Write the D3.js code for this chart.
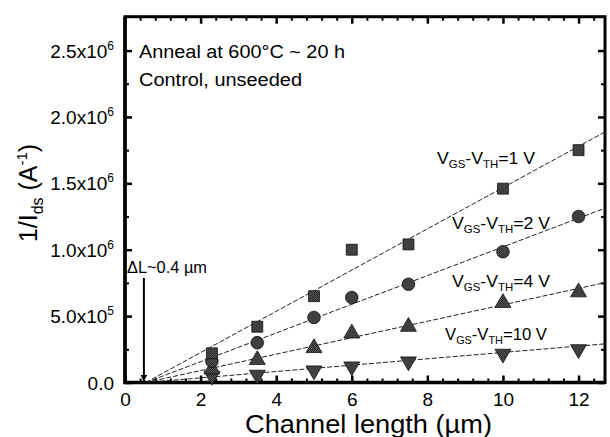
<!DOCTYPE html>
<html>
<head>
<meta charset="utf-8">
<script src="https://cdn.jsdelivr.net/npm/d3@7"></script>
<style>
  body { margin: 0; background: #fff; }
  svg { display: block; }
  text { font-family: "Liberation Sans", Arial, Helvetica, sans-serif; fill: #000; }
</style>
</head>
<body>
<svg id="chart" width="610" height="437"></svg>
<script>
// Channel lengths (µm) at which devices were measured
const channelLength = [2.3, 3.5, 5, 6, 7.5, 10, 12];

// 1/Ids (A^-1) for each gate overdrive
const inv1V  = [2.2e5, 4.2e5, 6.5e5, 1.0e6, 1.04e6, 1.46e6, 1.75e6];
const inv2V  = [1.6e5, 3.0e5, 4.9e5, 6.4e5, 7.4e5, 9.85e5, 1.25e6];
const inv4V  = [1.0e5, 1.7e5, 2.6e5, 3.7e5, 4.2e5, 6.0e5, 6.8e5];
const inv10V = [0.5e5, 0.58e5, 0.9e5, 1.2e5, 1.58e5, 2.16e5, 2.5e5];

// Linear fits: all cross zero near the same length offset
const fitStartX = 0.55;
const fitEndX = 12.7;
const fitEndY = [1.887e6, 1.313e6, 0.752e6, 0.291e6];

// Series labels (overdrive values)
const overdrive = ["1 V", "2 V", "4 V", "10 V"];

// Axis ticks
const xTicks = [0, 2, 4, 6, 8, 10, 12];
const yTicks = [0, 5e5, 1e6, 1.5e6, 2e6, 2.5e6];
const yTickMantissa = ["0.0", "5.0x10", "1.0x10", "1.5x10", "2.0x10", "2.5x10"];
const yTickExponent = ["", "5", "6", "6", "6", "6"];

const svg = d3.select("#chart");
const padL = 125, padR = 605, padT = 16.7, padB = 382.5;

const x = d3.scaleLinear().domain([0, 12.7]).range([padL, padR]);
const y = d3.scaleLinear().domain([0, 2.755e6]).range([padB, padT]);

// grainy halftone fill for the markers
const defs = svg.append("defs");
const pat = defs.append("pattern").attr("id", "grain")
  .attr("width", 2).attr("height", 2).attr("patternUnits", "userSpaceOnUse");
pat.append("rect").attr("width", 2).attr("height", 2).attr("fill", "#666");
pat.append("rect").attr("width", 1).attr("height", 1).attr("fill", "#111");
pat.append("rect").attr("x", 1).attr("y", 1).attr("width", 1).attr("height", 1).attr("fill", "#222");

defs.append("clipPath").attr("id", "plotClip")
  .append("rect").attr("x", padL).attr("y", padT).attr("width", padR - padL).attr("height", padB - padT);

defs.append("marker").attr("id", "arrowHead")
  .attr("viewBox", "0 0 10 10").attr("refX", 10).attr("refY", 5)
  .attr("markerWidth", 7).attr("markerHeight", 7).attr("markerUnits", "userSpaceOnUse")
  .attr("orient", "auto")
  .append("path").attr("d", "M0,0 L10,5 L0,10 Z").attr("fill", "#000");

// minor tick values
const xMinor = d3.range(0, 12.7, 0.4).filter(v => Math.abs(v / 2 - Math.round(v / 2)) > 1e-6);
const yMinor = d3.range(2.5e5, 2.75e6, 5e5);

function axisTicks(g) { g.select(".domain").remove(); g.selectAll("line").attr("stroke", "#000"); }

// bottom axis (inward ticks)
svg.append("g").attr("transform", `translate(0,${padB})`)
  .call(d3.axisBottom(x).tickValues(xMinor).tickSize(-4).tickFormat(""))
  .call(axisTicks).selectAll("line").attr("stroke-width", 2);
svg.append("g").attr("transform", `translate(0,${padB})`)
  .call(d3.axisBottom(x).tickValues(xTicks).tickSize(-7).tickPadding(10))
  .call(axisTicks)
  .call(g => g.selectAll("line").attr("stroke-width", 2.5))
  .call(g => g.selectAll("text").attr("font-size", 19).attr("fill", "#000")
    .attr("font-family", '"Liberation Sans", Arial, sans-serif'));

// top axis (inward ticks)
svg.append("g").attr("transform", `translate(0,${padT})`)
  .call(d3.axisTop(x).tickValues(xMinor).tickSize(-4).tickFormat(""))
  .call(axisTicks).selectAll("line").attr("stroke-width", 2);
svg.append("g").attr("transform", `translate(0,${padT})`)
  .call(d3.axisTop(x).tickValues(xTicks).tickSize(-7).tickFormat(""))
  .call(axisTicks).selectAll("line").attr("stroke-width", 2.5);

// left axis
svg.append("g").attr("transform", `translate(${padL},0)`)
  .call(d3.axisLeft(y).tickValues(yMinor).tickSize(-4).tickFormat(""))
  .call(axisTicks).selectAll("line").attr("stroke-width", 2);
svg.append("g").attr("transform", `translate(${padL},0)`)
  .call(d3.axisLeft(y).tickValues(yTicks).tickSize(-7).tickFormat(""))
  .call(axisTicks).selectAll("line").attr("stroke-width", 2.5);

// right axis
svg.append("g").attr("transform", `translate(${padR},0)`)
  .call(d3.axisRight(y).tickValues(yMinor).tickSize(-4).tickFormat(""))
  .call(axisTicks).selectAll("line").attr("stroke-width", 2);
svg.append("g").attr("transform", `translate(${padR},0)`)
  .call(d3.axisRight(y).tickValues(yTicks).tickSize(-7).tickFormat(""))
  .call(axisTicks).selectAll("line").attr("stroke-width", 2.5);

// y tick labels with superscript exponent
const yl = svg.append("g").selectAll("text").data(yTicks).join("text")
  .attr("x", 114).attr("y", d => y(d) + 7)
  .attr("text-anchor", "end").attr("font-size", 19);
yl.append("tspan").text((d, i) => yTickMantissa[i]);
yl.append("tspan").attr("dy", -8).attr("font-size", 12).text((d, i) => yTickExponent[i]);

// frame (left and bottom drawn a touch heavier)
svg.append("rect").attr("x", padL).attr("y", padT)
  .attr("width", padR - padL).attr("height", padB - padT)
  .attr("fill", "none").attr("stroke", "#000").attr("stroke-width", 3);
svg.append("path").attr("d", `M${padL},${padT} V${padB} H${padR}`)
  .attr("fill", "none").attr("stroke", "#000").attr("stroke-width", 3.5);

// fit lines
const plot = svg.append("g").attr("clip-path", "url(#plotClip)");
plot.selectAll("line.fit").data(fitEndY).join("line").attr("class", "fit")
  .attr("x1", x(fitStartX)).attr("y1", y(0))
  .attr("x2", x(fitEndX)).attr("y2", d => y(d))
  .attr("stroke", "#222").attr("stroke-width", 1).attr("stroke-dasharray", "5,2");

// markers
const seriesValues = [inv1V, inv2V, inv4V, inv10V];
const shapes = [
  { type: d3.symbolSquare, size: 120, rot: 0 },
  { type: d3.symbolCircle, size: 125, rot: 0 },
  { type: d3.symbolTriangle, size: 110, rot: 0 },
  { type: d3.symbolTriangle, size: 110, rot: 180 }
];
// draw the lowest series first so upper markers sit on top in the crowded column
[3, 2, 1, 0].forEach(si => {
  const s = shapes[si];
  svg.append("g").selectAll("path").data(seriesValues[si]).join("path")
    .attr("transform", (d, i) => `translate(${x(channelLength[i])},${y(d)}) rotate(${s.rot})`)
    .attr("d", d3.symbol().type(s.type).size(s.size))
    .attr("fill", "url(#grain)").attr("stroke", "#111").attr("stroke-width", 0.8);
});

// series labels
const labelPos = [[437, 164], [452, 229], [452, 287], [445, 340]];
const labelWidth = [98, 98, 98, 102];
overdrive.forEach((v, i) => {
  const t = svg.append("text").attr("x", labelPos[i][0]).attr("y", labelPos[i][1]).attr("font-size", 17)
    .attr("textLength", labelWidth[i]).attr("lengthAdjust", "spacingAndGlyphs");
  t.append("tspan").text("V");
  t.append("tspan").attr("font-size", 11).attr("dy", 4).text("GS");
  t.append("tspan").attr("dy", -4).text("-V");
  t.append("tspan").attr("font-size", 11).attr("dy", 4).text("TH");
  t.append("tspan").attr("dy", -4).text("=" + v);
});

// annotations
svg.append("text").attr("x", 139).attr("y", 58).attr("font-size", 18)
  .attr("textLength", 206).attr("lengthAdjust", "spacingAndGlyphs").text("Anneal at 600°C ~ 20 h");
svg.append("text").attr("x", 139).attr("y", 86).attr("font-size", 18)
  .attr("textLength", 163).attr("lengthAdjust", "spacingAndGlyphs").text("Control, unseeded");

svg.append("text").attr("x", 127).attr("y", 273).attr("font-size", 16)
  .attr("textLength", 80).attr("lengthAdjust", "spacingAndGlyphs").text("ΔL~0.4 µm");
svg.append("line").attr("x1", x(0.5)).attr("y1", 278).attr("x2", x(0.5)).attr("y2", padB - 1)
  .attr("stroke", "#000").attr("stroke-width", 2).attr("marker-end", "url(#arrowHead)");

// axis titles
svg.append("text").attr("x", 245).attr("y", 433).attr("font-size", 25)
  .attr("textLength", 247).attr("lengthAdjust", "spacingAndGlyphs").text("Channel length (µm)");

const yt = svg.append("text").attr("transform", "translate(37,193) rotate(-90)")
  .attr("text-anchor", "middle").attr("font-size", 25);
yt.append("tspan").text("1/I");
yt.append("tspan").attr("font-size", 16).attr("dy", 6).text("ds");
yt.append("tspan").attr("dy", -6).text(" (A");
yt.append("tspan").attr("font-size", 15).attr("dy", -10).text("-1");
yt.append("tspan").attr("dy", 10).text(")");
</script>
</body>
</html>
